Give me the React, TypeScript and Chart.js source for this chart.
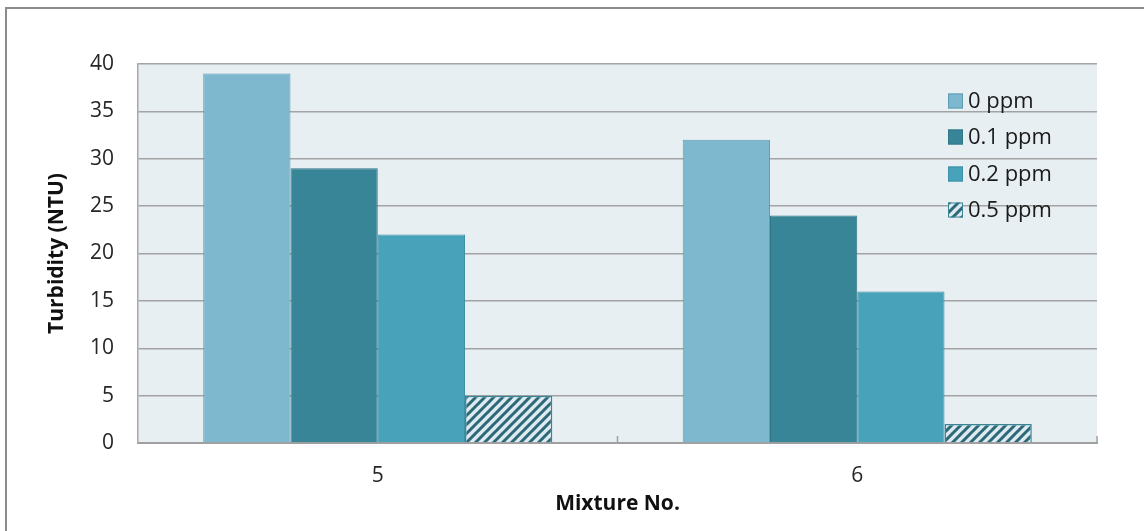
import React, { useEffect, useRef } from "react";
import { Chart, registerables } from "chart.js";

Chart.register(...registerables);

const categories = ["5", "6"];
const seriesLabels = ["0 ppm", "0.1 ppm", "0.2 ppm", "0.5 ppm"];
const ppm0 = [39, 32];
const ppm01 = [29, 24];
const ppm02 = [22, 16];
const ppm05 = [5, 2];
const yTicks = [0, 5, 10, 15, 20, 25, 30, 35, 40];

const FONT = "'Open Sans', 'Noto Sans', sans-serif";

function makeHatch(): CanvasPattern | string {
  const c = document.createElement("canvas");
  const s = 9;
  c.width = s;
  c.height = s;
  const g = c.getContext("2d");
  if (!g) return "#2C6878";
  g.fillStyle = "#DDEBF0";
  g.fillRect(0, 0, s, s);
  g.strokeStyle = "#2C6878";
  g.lineWidth = 3;
  g.beginPath();
  g.moveTo(-1, s + 1);
  g.lineTo(s + 1, -1);
  g.moveTo(-1 - s, s + 1);
  g.lineTo(1, -1);
  g.moveTo(s - 1, s + 1);
  g.lineTo(s + 1, s - 1);
  g.stroke();
  const p = g.createPattern(c, "repeat");
  return p || "#2C6878";
}

export default function App() {
  const ref = useRef<HTMLCanvasElement | null>(null);

  useEffect(() => {
    if (!ref.current) return;
    const hatch = makeHatch();
    const fills: any[] = ["#7DB8CE", "#388597", "#48A2BA", hatch];
    const borders = ["#5C9DB2", "#2F7686", "#3D91A7", "#3A8596"];
    const values = [ppm0, ppm01, ppm02, ppm05];

    const bgPlugin = {
      id: "bgPlugin",
      beforeDraw(chart: any) {
        const { ctx, chartArea } = chart;
        ctx.save();
        ctx.fillStyle = "#E8EFF3";
        ctx.fillRect(chartArea.left, chartArea.top, chartArea.right - chartArea.left, chartArea.bottom - chartArea.top);
        ctx.strokeStyle = "#8C8C8C";
        ctx.lineWidth = 2;
        ctx.beginPath();
        ctx.moveTo(6, 540);
        ctx.lineTo(6, 8);
        ctx.lineTo(1150, 8);
        ctx.stroke();
        ctx.restore();
      },
      afterDraw(chart: any) {
        const { ctx, chartArea } = chart;
        ctx.save();
        const xs = chart.scales.x;
        ctx.strokeStyle = "#A0A0A0";
        ctx.lineWidth = 1.5;
        const n = categories.length;
        for (let i = 1; i <= n; i++) {
          const px = i < n ? (xs.getPixelForValue(i - 1) + xs.getPixelForValue(i)) / 2 : chartArea.right;
          ctx.beginPath();
          ctx.moveTo(px, chartArea.bottom);
          ctx.lineTo(px, chartArea.bottom - 7);
          ctx.stroke();
        }
        const lx = 948;
        const rows = [101, 137, 174, 210];
        ctx.font = `22px ${FONT}`;
        ctx.textBaseline = "middle";
        ctx.textAlign = "left";
        seriesLabels.forEach((lab, i) => {
          const y = rows[i];
          ctx.fillStyle = fills[i];
          ctx.fillRect(lx, y - 7.5, 15, 15);
          ctx.strokeStyle = borders[i];
          ctx.lineWidth = 1;
          ctx.strokeRect(lx + 0.5, y - 7, 14, 14);
          ctx.fillStyle = "#1A1A1A";
          ctx.fillText(lab, 968, y + 1);
        });
        ctx.restore();
      },
    };

    const chart = new Chart(ref.current, {
      type: "bar",
      data: {
        labels: categories,
        datasets: seriesLabels.map((lab, i) => ({
          label: lab,
          data: values[i],
          backgroundColor: fills[i],
          borderColor: borders[i],
          borderWidth: i === 3 ? 1.5 : 1,
          barPercentage: 1,
          categoryPercentage: 0.728,
        })),
      },
      options: {
        responsive: false,
        animation: false,
        devicePixelRatio: 1,
        layout: { padding: { top: 64, right: 47, left: 0, bottom: 0 } },
        plugins: {
          legend: { display: false },
          tooltip: { enabled: false },
        },
        scales: {
          x: {
            grid: { display: false, drawTicks: false },
            border: { display: true, color: "#A0A0A0", width: 2 },
            ticks: { color: "#262626", font: { family: FONT, size: 21 }, padding: 20 },
            title: {
              display: true,
              text: "Mixture No.",
              color: "#111",
              font: { family: FONT, size: 21, weight: "bold" },
              padding: { top: 0, bottom: 14 },
            },
            afterFit(scale: any) {
              scale.height = 88;
            },
          },
          y: {
            min: 0,
            max: 40,
            afterBuildTicks(scale: any) {
              scale.ticks = yTicks.map((v) => ({ value: v }));
            },
            grid: { color: "#A3A3A3", lineWidth: 1.5, drawTicks: false },
            border: { display: true, color: "#A8A8A8", width: 1.5 },
            ticks: { color: "#262626", font: { family: FONT, size: 21 }, padding: 24 },
            title: {
              display: true,
              text: "Turbidity (NTU)",
              color: "#111",
              font: { family: FONT, size: 21, weight: "bold" },
              padding: { top: 44, bottom: 0 },
            },
            afterFit(scale: any) {
              scale.width = 138;
            },
          },
        },
      },
      plugins: [bgPlugin],
    } as any);
    return () => chart.destroy();
  }, []);

  return (
    <div style={{ position: "absolute", left: 0, top: 0, width: 1144, height: 531, background: "#fff" }}>
      <canvas ref={ref} width={1144} height={531} style={{ display: "block" }} />
    </div>
  );
}
